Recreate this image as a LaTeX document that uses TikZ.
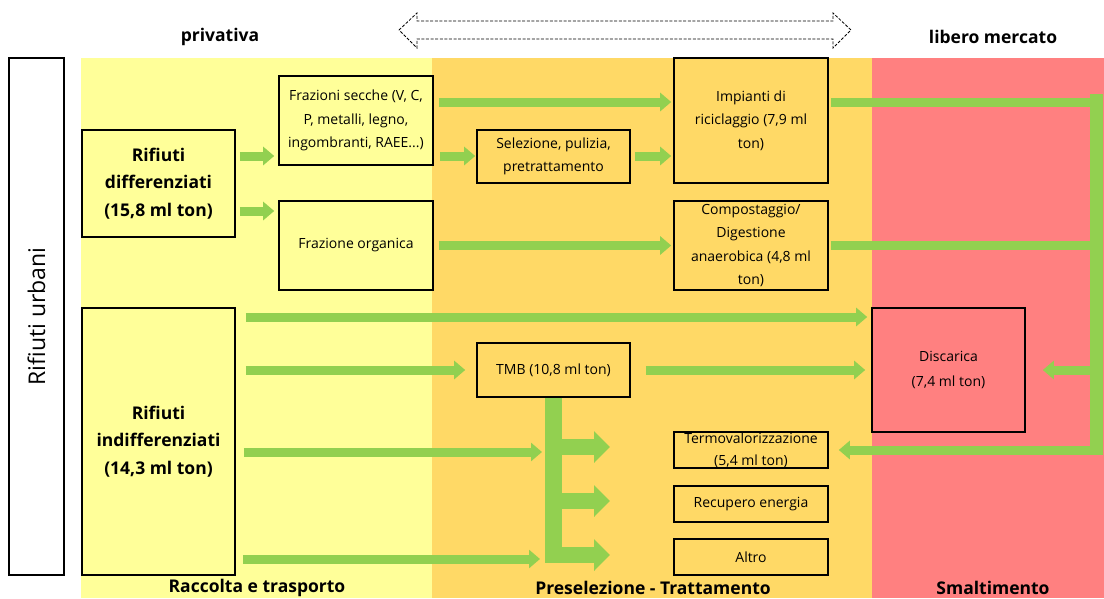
\documentclass[tikz,border=0pt]{standalone}
\usepackage{fontspec}
\setmainfont{Open Sans}
\usetikzlibrary{arrows.meta,calc}
\definecolor{cyel}{HTML}{FFFF99}
\definecolor{corg}{HTML}{FFD966}
\definecolor{cred}{HTML}{FF8080}
\definecolor{cgrn}{HTML}{92D050}
\begin{document}
\begin{tikzpicture}[x=1pt,y=-1pt,
  box/.style={draw=black, line width=1.6pt, inner sep=0pt, align=center,
    font=\fontsize{14}{23.5}\selectfont},
  bbox/.style={box, font=\bfseries\fontsize{17.5}{27.5}\selectfont},
  lbl/.style={font=\bfseries\fontsize{17.5}{20}\selectfont, inner sep=0pt},
  garrow/.style={draw=cgrn, line width=9pt, -{Triangle[width=18pt,length=11pt]}},
  bigarrow/.style={draw=cgrn, line width=16pt, -{Triangle[width=31pt,length=16pt]}},
  gline/.style={draw=cgrn, line width=9pt},
  gbar/.style={draw=cgrn, line width=13pt},
  tbar/.style={draw=cgrn, line width=17pt}
]
\useasboundingbox (0,0) rectangle (1104,598);
% background bands
\fill[cyel] (81,58) rectangle (432,598);
\fill[corg] (432,58) rectangle (872,598);
\fill[cred] (872,58) rectangle (1104,598);

% dashed double arrow
\draw[dashed, dash pattern=on 3pt off 1.6pt, line width=0.8pt, fill=white]
  (399,30) -- (417,13) -- (417,21) -- (833,21) -- (833,13) -- (851,30)
  -- (833,48) -- (833,39) -- (417,39) -- (417,48) -- cycle;

% header / footer labels
\node[lbl] (hpriv) at (220,37) {privativa};
\node[lbl] (hlib) at (993,37) {libero mercato};
\node[lbl] (fracc) at (257,588) {Raccolta e trasporto};
\node[lbl] (fpre) at (653,588) {Preselezione - Trattamento};
\node[lbl] (fsma) at (993,588) {Smaltimento};

% boxes
\node[box, rotate=90, minimum width=517pt, minimum height=55pt,
  font=\fontsize{23}{26}\selectfont] (urb) at (36.5,316.5) {Rifiuti urbani};
\node[bbox, minimum width=153pt, minimum height=107pt] (dif) at (158.5,183.5)
  {Rifiuti\\differenziati\\(15,8 ml ton)};
\node[bbox, minimum width=153pt, minimum height=267pt] (ind) at (158.5,441.5)
  {Rifiuti\\indifferenziati\\(14,3 ml ton)};
\node[box, minimum width=154pt, minimum height=89pt] (fs) at (356,120.5)
  {Frazioni secche (V, C,\\P, metalli, legno,\\ingombranti, RAEE...)};
\node[box, minimum width=154pt, minimum height=89pt] (org) at (356,245.5)
  {Frazione organica};
\node[box, minimum width=153pt, minimum height=53pt] (sel) at (553.5,156.5)
  {Selezione, pulizia,\\pretrattamento};
\node[box, minimum width=153pt, minimum height=54pt] (tmb) at (553.5,370)
  {TMB (10,8 ml ton)};
\node[box, minimum width=154pt, minimum height=125pt] (imp) at (751,120.5)
  {Impianti di\\riciclaggio (7,9 ml\\ton)};
\node[box, minimum width=154pt, minimum height=89pt] (comp) at (751,245.5)
  {Compostaggio/\\Digestione\\anaerobica (4,8 ml\\ton)};
\node[box, minimum width=154pt, minimum height=36pt,
  font=\fontsize{14}{22}\selectfont] (term) at (751,450)
  {Termovalorizzazione\\(5,4 ml ton)};
\node[box, minimum width=154pt, minimum height=36pt] (rec) at (751,504)
  {Recupero energia};
\node[box, minimum width=154pt, minimum height=36pt] (alt) at (751,557)
  {Altro};
\node[box, minimum width=153pt, minimum height=124pt,
  font=\fontsize{14}{25}\selectfont] (disc) at (948.5,370)
  {Discarica\\(7,4 ml ton)};

% helper coordinates
\coordinate (yI) at (0,102);
\coordinate (yS) at (0,156);
\coordinate (yO) at (0,211);
\coordinate (yA) at (0,317);
\coordinate (yC) at (0,452);
\coordinate (yD) at (0,559);
\coordinate (bar) at (1096,94);
\coordinate (barb) at (1096,455);
\coordinate (tbot) at (553.5,563);
\coordinate (b1) at (610,447);
\coordinate (b2) at (610,501);
\coordinate (b3) at (610,555);

% green flows
\draw[garrow, shorten <=4pt, shorten >=4pt] (dif.east |- yS) -- (fs.west |- yS);
\draw[garrow, shorten <=4pt, shorten >=4pt] (dif.east |- yO) -- (org.west |- yO);
\draw[garrow, shorten <=5pt, shorten >=2pt] (fs.east |- yI) -- (imp.west |- yI);
\draw[garrow, shorten <=6pt, shorten >=1pt] (fs.east |- yS) -- (sel.west |- yS);
\draw[garrow, shorten <=4pt, shorten >=2pt] (sel.east |- yS) -- (imp.west |- yS);
\draw[garrow, shorten <=5pt, shorten >=2pt] (org.east) -- (comp.west);

\draw[gbar] (bar) -- (barb);
\draw[gline, shorten <=2pt] (imp.east |- yI) -- (bar |- yI);
\draw[gline, shorten <=2pt] (comp.east) -- (bar |- comp.east);
\draw[garrow, shorten >=17pt] (bar |- disc.east) -- (disc.east);
\draw[garrow, shorten <=-6pt, shorten >=10pt] (bar |- term.east) -- (term.east);

\draw[garrow, shorten <=10pt, shorten >=4pt] (ind.east |- yA) -- (disc.west |- yA);
\draw[garrow, shorten <=10pt, shorten >=11pt] (ind.east |- tmb.west) -- (tmb.west);
\draw[garrow, shorten <=15pt, shorten >=6pt] (tmb.east) -- (disc.west);
\draw[garrow, shorten <=8pt, shorten >=11.5pt] (ind.east |- yC) -- (tmb.south |- yC);
\draw[garrow, shorten <=7pt, shorten >=13.5pt] (ind.east |- yD) -- (tmb.south |- yD);

\draw[tbar] (tmb.south) -- (tbot);
\draw[bigarrow] (tmb.south |- b1) -- (b1);
\draw[bigarrow] (tmb.south |- b2) -- (b2);
\draw[bigarrow] (tmb.south |- b3) -- (b3);
\end{tikzpicture}
\end{document}
